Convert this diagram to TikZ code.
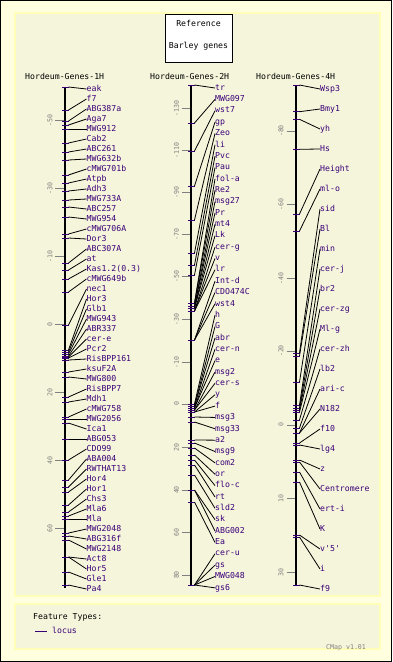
\documentclass[tikz,border=0pt]{standalone}
\usepackage{fontspec}
\newfontfamily\mono{DejaVu Sans Mono}
\definecolor{outerbg}{HTML}{FFFFE0}
\definecolor{innerbg}{HTML}{F5F5DC}
\definecolor{panelborder}{HTML}{FFFFB8}
\definecolor{feat}{HTML}{3A0078}
\definecolor{scalec}{HTML}{808080}
\tikzset{
  lab/.style={anchor=west,inner sep=0pt,text=feat,font=\mono\fontsize{8.2}{9}\selectfont,text height=5.6pt,text depth=1.2pt},
  ttl/.style={anchor=west,inner sep=0pt,text=black,font=\mono\fontsize{8.2}{9}\selectfont,text height=5.6pt,text depth=1.2pt},
  scl/.style={rotate=90,inner sep=0pt,text=scalec,font=\mono\fontsize{6.6}{7}\selectfont},
  chrom/.style={line width=2.6pt,black},
  ftick/.style={feat,line width=1pt},
  conn/.style={black,line width=0.8pt},
  stick/.style={scalec,line width=0.9pt}
}
\begin{document}
\begin{tikzpicture}[x=1pt,y=-1pt]
\useasboundingbox (0,0) rectangle (392,662);
\fill[outerbg,draw=black,line width=1pt] (0.5,0.5) rectangle (391.5,661.5);
\fill[innerbg,draw=panelborder,line width=1.5pt] (15,13) rectangle (380,596);
\fill[innerbg,draw=panelborder,line width=1.5pt] (15,604) rectangle (380,649);
% title box
\node[draw=black,fill=white,line width=1pt,minimum width=67pt,minimum height=48pt,inner sep=0pt] (tbox) at (198.5,38) {};
\node[font=\mono\fontsize{8.2}{9}\selectfont,inner sep=0pt] (tref) at (198.5,23) {Reference};
\node[font=\mono\fontsize{8.2}{9}\selectfont,inner sep=0pt] (tbar) at (198.5,46) {Barley genes};
% column titles
\node[ttl] (t1) at (25,77) {Hordeum-Genes-1H};
\node[ttl] (t2) at (150,77) {Hordeum-Genes-2H};
\node[ttl] (t4) at (256,77) {Hordeum-Genes-4H};
% ---------- 1H ----------
\foreach \v/\yy in {-50/120.7,-30/188.5,-10/256.5,0/324.3,20/392.3,40/460.5,60/528.3}{
  \draw[stick] (55,\yy) -- (65,\yy);
  \node[scl] at (50,\yy) {\v};
}
\draw[chrom] (65,87) -- (65,588);
\foreach \lab/\ly [count=\i] in {eak/87, f7/110, ABG387a/121, Aga7/125, MWG912/129, Cab2/143, ABC261/152, MWG632b/160, cMWG701b/175, Atpb/183, Adh3/191, MWG733A/200, ABC257/207, MWG954/217, cMWG706A/234, Dor3/238, ABC307A/263, at/270, Kas1.2(0.3)/279, cMWG649b/292, nec1/325, Hor3/350, Glb1/352, MWG943/354, ABR337/356, cer-e/357, Pcr2/358, RisBPP161/360, ksuF2A/372, MWG800/377, RisBPP7/397, Mdh1/402, cMWG758/417, MWG2056/419, Ica1/423, ABG053/439, CDO99/460, ABA004/480, RWTHAT13/487, Hor4/492, Hor1/505, Chs3/512, Mla6/516, Mla/519, MWG2048/533, ABG316f/536, MWG2148/540, Act8/557, Hor5/557, Gle1/572, Pa4/585}{
  \draw[ftick] (62,\ly) -- (68.5,\ly);
  \coordinate (a\i) at (68.5,\ly);
  \node[lab] (la\i) at (86.5,{89+10*(\i-1)}) {\lab};
  \draw[conn] (a\i) -- (la\i.west);
}
% ---------- 2H ----------
\foreach \v/\yy in {-130/108.3,-110/150.7,-90/192.7,-70/234.3,-50/276.7,-30/319.3,-10/362.7,0/404,20/447.3,40/490,60/532.7,80/575}{
  \draw[stick] (181.5,\yy) -- (191,\yy);
  \node[scl] at (176.5,\yy) {\v};
}
\draw[chrom] (191,85) -- (191,586);
\foreach \lab/\ly [count=\i] in {tr/85, MWG097/123, wst7/151, gp/186, Zeo/220, li/253, Pvc/265, Pau/275, fol-a/303, Re2/303, msg27/306, Pr/306, mt4/308, Lk/308, cer-g/311, v/311, lr/311, Int-d/340, CDO474C/340, wst4/340, h/404, G/406, abr/406, cer-n/408, e/408, msg2/410, cer-s/410, y/412, f/412, msg3/417, msg33/422, a2/440, msg9/443, com2/448, or/455, flo-c/460, rt/465, sld2/475, sk/490, ABG002/490, Ea/502, cer-u/585, gs/585, MWG048/585, gs6/585}{
  \draw[ftick] (188,\ly) -- (194.5,\ly);
  \coordinate (b\i) at (194.5,\ly);
  \node[lab] (lb\i) at (215,{88+11.36*(\i-1)}) {\lab};
  \draw[conn] (b\i) -- (lb\i.west);
}
% ---------- 4H ----------
\foreach \v/\yy in {-80/131,-60/204.3,-40/278.3,-20/351,0/425,10/498.3,30/572.7}{
  \draw[stick] (286.5,\yy) -- (296,\yy);
  \node[scl] at (281,\yy) {\v};
}
\draw[chrom] (296,85) -- (296,586);
\foreach \lab/\ly [count=\i] in {Wsp3/85, Bmy1/111.7, yh/119.3, Hs/149.3, Height/214, ml-o/231, sid/353, Bl/356, min/382, cer-j/405, br2/408, cer-zg/410, Ml-g/412, cer-zh/420, lb2/428, ari-c/433, N182/433, f10/443, lg4/445, z/460, Centromere/462, ert-i/472, K/482, v'5'/535, i/537, f9/585}{
  \draw[ftick] (293,\ly) -- (299.5,\ly);
  \coordinate (c\i) at (299.5,\ly);
  \node[lab] (lc\i) at (320,{89+20*(\i-1)}) {\lab};
  \draw[conn] (c\i) -- (lc\i.west);
}
% ---------- legend ----------
\node[ttl] (ft) at (33,617) {Feature Types:};
\coordinate (lg1) at (35,631);
\node[lab] (lglab) at (52,631) {locus};
\draw[feat,line width=1pt] (lg1) -- ++(12,0);
\node[anchor=west,inner sep=0pt,text=scalec,font=\mono\fontsize{6.6}{7}\selectfont] (ver) at (326,648) {CMap v1.01};
\end{tikzpicture}
\end{document}
